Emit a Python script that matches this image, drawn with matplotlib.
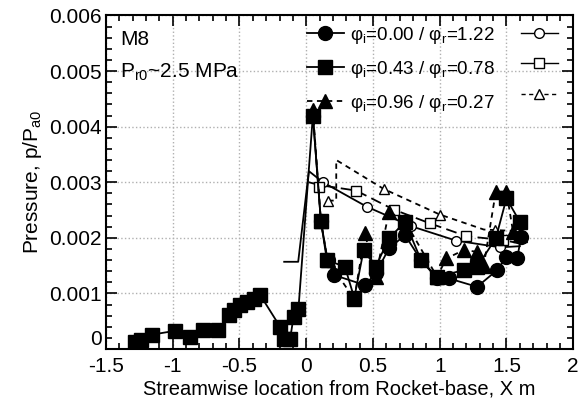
import matplotlib
matplotlib.use('Agg')
import matplotlib.pyplot as plt
from matplotlib.ticker import MultipleLocator
import numpy as np

plt.rcParams['font.family'] = ['Liberation Sans', 'DejaVu Sans']
plt.rcParams['axes.unicode_minus'] = False
plt.rcParams['mathtext.default'] = 'regular'

# upstream taps (x < 0), shared by all runs
x_up = [-1.28, -1.24, -1.155, -0.98, -0.87, -0.77, -0.66, -0.58, -0.544, -0.494,
        -0.444, -0.394, -0.344, -0.195, -0.17, -0.12, -0.095, -0.058]
p_up = [0.00013, 0.00016, 0.00026, 0.00033, 0.00022, 0.00034, 0.00034, 0.00061, 0.00070, 0.00079,
        0.00085, 0.00090, 0.00097, 0.00040, 0.00019, 0.00019, 0.00058, 0.00073]

# experiment, phi_i=0.00
x_c = [0.05, 0.11, 0.16, 0.21, 0.44, 0.52, 0.62, 0.74, 0.86, 0.98, 1.07, 1.28, 1.43, 1.5, 1.58, 1.61]
p_c = [0.0042, 0.0023, 0.0016, 0.00133, 0.00115, 0.00136, 0.00181, 0.00205, 0.0016, 0.00127,
       0.00127, 0.00112, 0.00142, 0.00166, 0.00163, 0.00202]
# experiment, phi_i=0.43
x_s = [0.05, 0.11, 0.155, 0.29, 0.36, 0.43, 0.52, 0.62, 0.74, 0.86, 0.98, 1.18, 1.28, 1.42, 1.5, 1.6]
p_s = [0.0042, 0.0023, 0.0016, 0.00148, 0.00092, 0.00178, 0.00148, 0.00199, 0.00229, 0.0016,
       0.0013, 0.00142, 0.00148, 0.00199, 0.00271, 0.00229]
# experiment, phi_i=0.96
x_t = [0.05, 0.11, 0.16, 0.36, 0.44, 0.52, 0.62, 0.74, 0.98, 1.05, 1.18, 1.28, 1.33, 1.42, 1.5, 1.55, 1.6]
p_t = [0.0043, 0.0023, 0.0016, 0.0009, 0.00208, 0.0013, 0.00247, 0.0023, 0.0013, 0.00163,
       0.00178, 0.00175, 0.0015, 0.00283, 0.00283, 0.0021, 0.00205]

# predictions (lines + open symbols)
xl_c = [-0.165, -0.06, 0.02, 0.125, 0.454, 0.786, 1.123, 1.452, 1.6]
pl_c = [0.00157, 0.00157, 0.0032, 0.0030, 0.00256, 0.00221, 0.00195, 0.00183, 0.00185]
xm_c = [0.125, 0.454, 0.786, 1.123, 1.452]
pm_c = [0.0030, 0.00256, 0.00221, 0.00195, 0.00183]

xl_s = [0.02, 0.097, 0.374, 0.654, 0.928, 1.2, 1.477, 1.6]
pl_s = [0.0030, 0.00295, 0.00285, 0.00251, 0.00226, 0.00203, 0.00196, 0.0019]
xm_s = [0.097, 0.374, 0.654, 0.928, 1.2, 1.477]
pm_s = [0.00292, 0.00285, 0.00251, 0.00226, 0.00203, 0.00196]

xl_t = [0.165, 0.225, 0.225, 0.58, 1.0, 1.33, 1.6]
pl_t = [0.00267, 0.00267, 0.0034, 0.00288, 0.00242, 0.00215, 0.00212]
xm_t = [0.165, 0.58, 1.0, 1.415]
pm_t = [0.00267, 0.00287, 0.00242, 0.00215]

labels = [r'φ$_{i}$=0.00 / φ$_{r}$=1.22',
          r'φ$_{i}$=0.43 / φ$_{r}$=0.78',
          r'φ$_{i}$=0.96 / φ$_{r}$=0.27']

fig = plt.figure(figsize=(5.79, 4.05), dpi=100)
ax = fig.add_axes([0.183, 0.138, 0.807, 0.824])

lw = 1.3
# theory lines
ax.plot(xl_c, pl_c, '-', color='k', lw=lw)
ax.plot(xl_s, pl_s, '--', color='k', lw=lw, dashes=(6, 3))
ax.plot(xl_t, pl_t, '--', color='k', lw=lw, dashes=(3, 2.5))
ax.plot(xm_c, pm_c, 'o', mfc='white', mec='k', ms=7, mew=1)
ax.plot(xm_s, pm_s, 's', mfc='white', mec='k', ms=7, mew=1)
ax.plot(xm_t, pm_t, '^', mfc='white', mec='k', ms=7, mew=1)

# experiments
ax.plot(x_c, p_c, 'o-', color='k', lw=lw, ms=10)
ax.plot(x_t, p_t, '^--', color='k', lw=lw, ms=10, dashes=(3, 2.5))
ax.plot(x_up + x_s, p_up + p_s, 's-', color='k', lw=lw, ms=10)

# legend: experiment symbols left, prediction symbols right
h = []
h.append(plt.Line2D([], [], color='k', marker='o', ls='-', lw=lw, ms=10))
h.append(plt.Line2D([], [], color='k', marker='s', ls='-', lw=lw, ms=10))
h.append(plt.Line2D([], [], color='k', marker='^', ls='--', lw=lw, ms=10, dashes=(3, 2.5)))
h.append(plt.Line2D([], [], color='k', marker='o', ls='-', lw=1, ms=7, mfc='white'))
h.append(plt.Line2D([], [], color='k', marker='s', ls='-', lw=1, ms=7, mfc='white'))
h.append(plt.Line2D([], [], color='k', marker='^', ls='--', lw=1, ms=7, mfc='white', dashes=(3, 2.5)))
ax.legend(h, labels + ['', '', ''], ncol=2, frameon=False, loc='upper right',
          fontsize=13.5, handlelength=2.0, handletextpad=0.3, columnspacing=1.4,
          labelspacing=0.7, bbox_to_anchor=(1.0, 1.0), borderaxespad=0.1)

ax.text(0.03, 0.955, 'M8', transform=ax.transAxes, fontsize=15, va='top')
ax.text(0.03, 0.86, r'P$_{r0}$~2.5 MPa', transform=ax.transAxes, fontsize=15, va='top')

ax.set_xlim(-1.5, 2)
ax.set_ylim(0, 0.006)
ax.xaxis.set_minor_locator(MultipleLocator(0.1))
ax.yaxis.set_minor_locator(MultipleLocator(0.0002))
ax.set_xticks([-1.5, -1, -0.5, 0, 0.5, 1, 1.5, 2])
ax.set_xticklabels(['-1.5', '-1', '-0.5', '0', '0.5', '1', '1.5', '2'])
ax.set_yticks([0, 0.001, 0.002, 0.003, 0.004, 0.005, 0.006])
ax.set_yticklabels(['0', '0.001', '0.002', '0.003', '0.004', '0.005', '0.006'])
ax.get_yticklabels()[0].set_verticalalignment('bottom')
ax.tick_params(which='both', direction='in', top=True, right=True, labelsize=15, width=1.2)
ax.tick_params(axis='x', pad=6)
ax.tick_params(axis='y', pad=3)
ax.tick_params(which='major', length=8)
ax.tick_params(which='minor', length=4)
for s in ax.spines.values():
    s.set_linewidth(1.5)
ax.grid(True, which='major', color='#b0b0b0', ls=':', lw=1)
ax.set_axisbelow(True)

ax.set_xlabel('Streamwise location from Rocket-base, X m', fontsize=14.5, labelpad=2)
ax.set_ylabel(r'Pressure, p/P$_{a0}$', fontsize=15, labelpad=4)

plt.savefig('out.png', dpi=100)
